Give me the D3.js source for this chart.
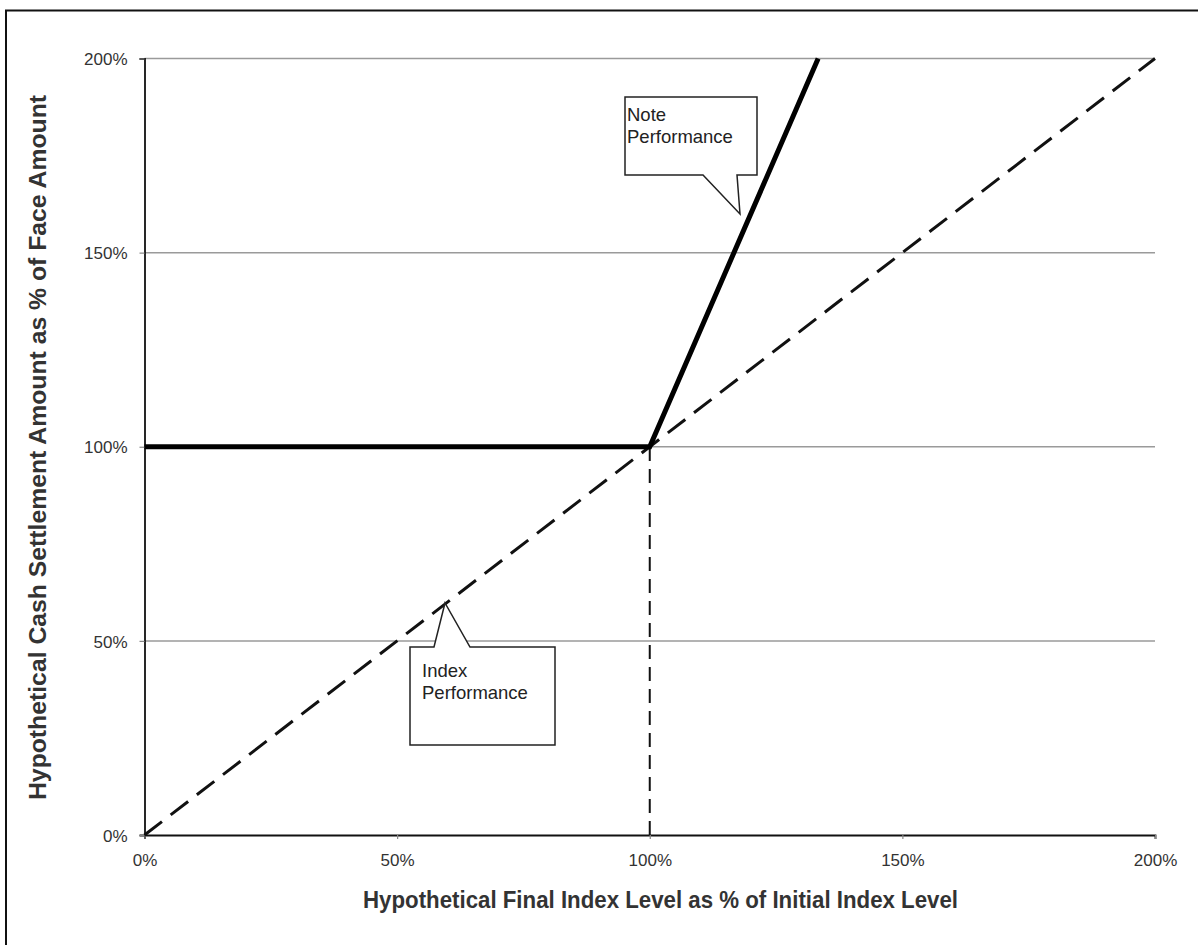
<!DOCTYPE html>
<html><head><meta charset="utf-8">
<script src="https://cdn.jsdelivr.net/npm/d3@7/dist/d3.min.js"></script>
<style>body{margin:0;background:#fff;}svg{display:block;}</style>
</head><body>
<script>
const xTicks = [0, 50, 100, 150, 200];
const yTicks = [0, 50, 100, 150, 200];
const tickLabels = ["0%", "50%", "100%", "150%", "200%"];
const notePerformance = [[0, 100], [100, 100], [133.33, 200]];
const indexPerformance = [[0, 0], [200, 200]];
const strikeLine = [[100, 0], [100, 100]];
const xTitle = "Hypothetical Final Index Level as % of Initial Index Level";
const yTitle = "Hypothetical Cash Settlement Amount as % of Face Amount";
const noteLabel = ["Note", "Performance"];
const indexLabel = ["Index", "Performance"];

const W = 1198, H = 945;
const svg = d3.select("body").append("svg").attr("width", W).attr("height", H);
svg.append("rect").attr("x", 6).attr("y", 10.5).attr("width", 1200).attr("height", 950)
  .attr("fill", "none").attr("stroke", "#111").attr("stroke-width", 2);

const x = d3.scaleLinear().domain([0, 200]).range([144.5, 1155]);
const y = d3.scaleLinear().domain([0, 200]).range([835, 58.5]);

// gridlines
svg.append("g").selectAll("line").data(yTicks.filter(d => d > 0)).join("line")
  .attr("x1", x(0)).attr("x2", x(200)).attr("y1", d => y(d)).attr("y2", d => y(d))
  .attr("stroke", "#9a9a9a").attr("stroke-width", 1.5);

// axes
const font = "'Liberation Sans', Arial, sans-serif";
const narrow = "'Liberation Sans Narrow', 'Arial Narrow', 'Liberation Sans', sans-serif";
const yAxis = svg.append("g").attr("transform", `translate(${x(0)},0)`)
  .call(d3.axisLeft(y).tickValues(yTicks).tickFormat((d, i) => tickLabels[i]).tickSize(5).tickPadding(12));
const xAxis = svg.append("g").attr("transform", `translate(0,${y(0)})`)
  .call(d3.axisBottom(x).tickValues(xTicks).tickFormat((d, i) => tickLabels[i]).tickSize(4).tickPadding(8));
[yAxis, xAxis].forEach(a => {
  a.select(".domain").attr("stroke", "#111").attr("stroke-width", 1.8);
  a.selectAll(".tick line").attr("stroke", "#888").attr("stroke-width", 1.2);
  a.selectAll("text").attr("font-family", font).attr("font-size", 17).attr("fill", "#333");
});
yAxis.selectAll(".tick text").attr("dy", "0.36em");
xAxis.selectAll(".tick text").attr("y", 31).attr("dy", 0);

const line = d3.line().x(d => x(d[0])).y(d => y(d[1]));

svg.append("path").datum(strikeLine).attr("d", line).attr("fill", "none")
  .attr("stroke", "#111").attr("stroke-width", 2).attr("stroke-dasharray", "14,8");
svg.append("path").datum(indexPerformance).attr("d", line).attr("fill", "none")
  .attr("stroke", "#111").attr("stroke-width", 3).attr("stroke-dasharray", "22,11");
svg.append("path").datum(notePerformance).attr("d", line).attr("fill", "none")
  .attr("stroke", "#000").attr("stroke-width", 5).attr("stroke-linejoin", "miter");

// callouts
function callout(box, tip, base, lines, textPos) {
  const [bx0, by0, bx1, by1] = box;
  let pts;
  if (tip[1] > by1) {
    pts = [[bx0, by0], [bx1, by0], [bx1, by1], [base[1], by1], tip, [base[0], by1], [bx0, by1]];
  } else {
    pts = [[bx0, by0], [base[0], by0], tip, [base[1], by0], [bx1, by0], [bx1, by1], [bx0, by1]];
  }
  svg.append("path").attr("d", "M" + pts.map(p => p.join(",")).join("L") + "Z")
    .attr("fill", "#fff").attr("stroke", "#222").attr("stroke-width", 1.5);
  lines.forEach((t, i) => svg.append("text").attr("x", textPos[0]).attr("y", textPos[1] + i * 22)
    .attr("font-family", font).attr("font-size", 18.5).attr("fill", "#222").text(t));
}
callout([625, 97, 757, 175], [740, 214], [703, 737], noteLabel, [627, 121]);
callout([410, 647, 555, 745], [445, 603], [434, 470], indexLabel, [422, 677]);

// axis titles
svg.append("text").attr("x", 363).attr("y", 908)
  .attr("font-family", narrow).attr("font-weight", "bold").attr("font-size", 24).attr("fill", "#333")
  .attr("textLength", 595).attr("lengthAdjust", "spacingAndGlyphs")
  .text(xTitle);
svg.append("text").attr("transform", "translate(46,800) rotate(-90)")
  .attr("font-family", narrow).attr("font-weight", "bold").attr("font-size", 24).attr("fill", "#333")
  .attr("textLength", 705).attr("lengthAdjust", "spacingAndGlyphs")
  .text(yTitle);
</script>
</body></html>
